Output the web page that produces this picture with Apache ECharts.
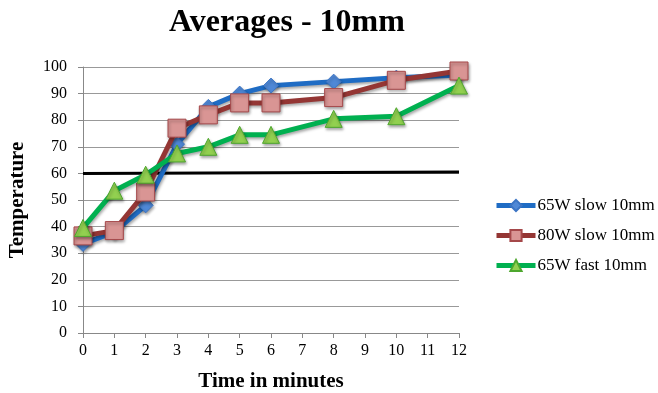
<!DOCTYPE html>
<html>
<head>
<meta charset="utf-8">
<script src="https://cdn.jsdelivr.net/npm/echarts@6/dist/echarts.min.js"></script>
<style>
* { margin: 0; padding: 0; }
#chart { width: 658px; height: 393px; background: #fff; }
</style>
</head>
<body>
<div id="chart"></div>
<script>
// minutes where readings were taken
var minutes = [0, 1, 2, 3, 4, 5, 6, 8, 10, 12];
var slow65 = [33.5, 38, 48, 71, 85, 90, 93, 94.5, 96, 97];
var slow80 = [36.5, 38.5, 53, 77, 82, 86.5, 86.5, 88.5, 95, 98.5];
var fast65 = [39.5, 53.5, 59.5, 67.5, 70, 74.5, 74.5, 80.5, 81.5, 93];
var refLine = [[0, 60], [12, 60.5]];

var serif = '"Liberation Serif", "Times New Roman", serif';

function pairs(vals) {
  return minutes.map(function (m, i) { return [m, vals[i]]; });
}

var shadow = { shadowColor: 'rgba(0,0,0,0.35)', shadowBlur: 3, shadowOffsetX: 1, shadowOffsetY: 2 };

var chart = echarts.init(document.getElementById('chart'));
chart.setOption({
  animation: false,
  title: {
    text: 'Averages - 10mm',
    left: 282,
    textAlign: 'center',
    top: 2,
    textStyle: { fontFamily: serif, fontSize: 32, fontWeight: 'bold', color: '#000' }
  },
  legend: {
    orient: 'vertical',
    left: 489,
    top: 192,
    itemWidth: 39,
    itemHeight: 14,
    itemGap: 13,
    lineStyle: { width: 5 },
    textStyle: { fontFamily: serif, fontSize: 17, color: '#000', padding: [0, 0, 0, -3] },
    data: ['65W slow 10mm', '80W slow 10mm', '65W fast 10mm']
  },
  grid: { left: 83, right: 199, top: 67, bottom: 60, outerBoundsMode: 'none' },
  xAxis: {
    type: 'value',
    min: 0,
    max: 12,
    interval: 1,
    name: 'Time in minutes',
    nameLocation: 'middle',
    nameGap: 38,
    nameTextStyle: { fontFamily: serif, fontSize: 21, fontWeight: 'bold', color: '#000' },
    axisLine: { lineStyle: { color: '#888', width: 1 } },
    axisTick: { show: true, length: 5, lineStyle: { color: '#888' } },
    axisLabel: { fontFamily: serif, fontSize: 16, color: '#000', margin: 10 },
    splitLine: { show: false }
  },
  yAxis: {
    type: 'value',
    min: 0,
    max: 100,
    interval: 10,
    name: 'Temperature',
    nameLocation: 'middle',
    nameGap: 55,
    nameTextStyle: { fontFamily: serif, fontSize: 21, fontWeight: 'bold', color: '#000' },
    axisLine: { show: true, lineStyle: { color: '#888', width: 1 } },
    axisTick: { show: true, length: 5, lineStyle: { color: '#888' } },
    axisLabel: { fontFamily: serif, fontSize: 16, color: '#000', margin: 16 },
    splitLine: { lineStyle: { color: '#999', width: 1 } }
  },
  series: [
    {
      name: 'ref',
      type: 'line',
      data: refLine,
      symbol: 'none',
      lineStyle: { color: '#000', width: 3 },
      z: 1
    },
    {
      name: '65W slow 10mm',
      type: 'line',
      data: pairs(slow65),
      symbol: 'diamond',
      symbolSize: 15,
      lineStyle: Object.assign({ color: '#1f6cc4', width: 5 }, shadow),
      itemStyle: Object.assign({ color: '#4f88d6', borderColor: '#3b74c4', borderWidth: 1 }, shadow),
      z: 2
    },
    {
      name: '80W slow 10mm',
      type: 'line',
      data: pairs(slow80),
      symbol: 'rect',
      symbolSize: 18,
      lineStyle: Object.assign({ color: '#943634', width: 5 }, shadow),
      itemStyle: Object.assign({ color: '#d99594', borderColor: '#a5484a', borderWidth: 1 }, shadow),
      z: 3
    },
    {
      name: '65W fast 10mm',
      type: 'line',
      data: pairs(fast65),
      symbol: 'triangle',
      symbolSize: 17,
      lineStyle: Object.assign({ color: '#00b050', width: 5 }, shadow),
      itemStyle: Object.assign({ color: '#92d050', borderColor: '#4ea72e', borderWidth: 1 }, shadow),
      z: 4
    }
  ]
});
</script>
</body>
</html>
